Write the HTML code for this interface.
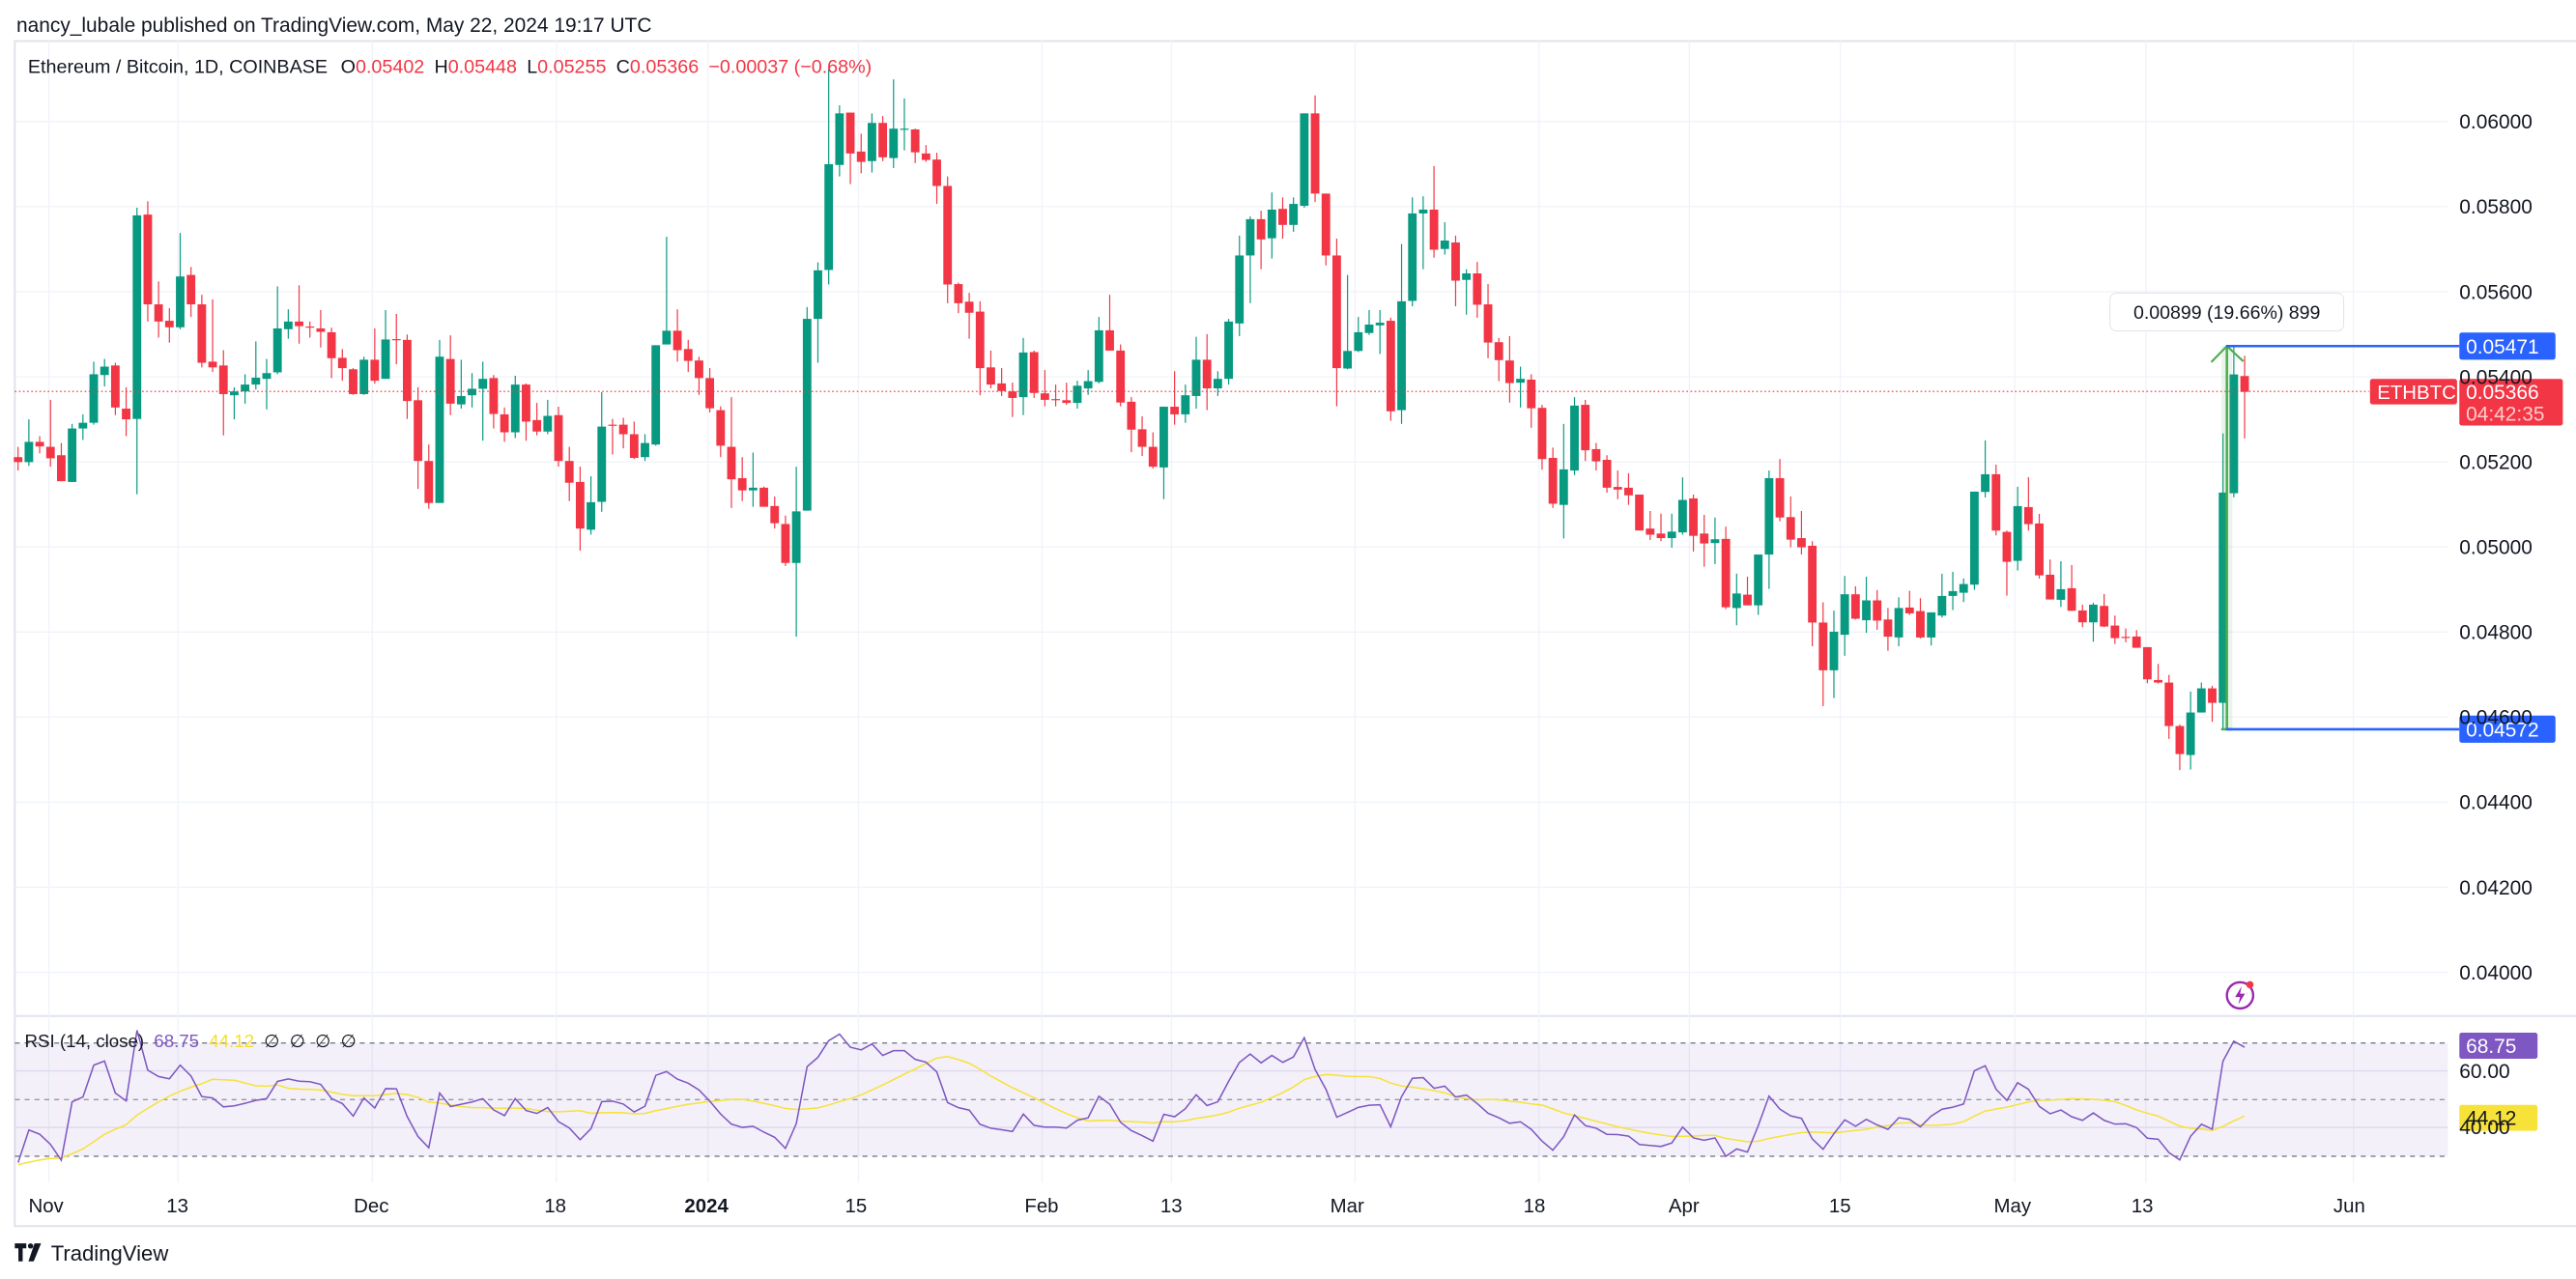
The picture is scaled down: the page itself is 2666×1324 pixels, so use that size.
<!DOCTYPE html>
<html><head><meta charset="utf-8">
<style>
html,body{margin:0;padding:0;background:#fff;}
svg{display:block;}
text{font-family:"Liberation Sans",Arial,sans-serif;}
</style></head>
<body>
<svg id="s" xmlns="http://www.w3.org/2000/svg" width="2666" height="1324" viewBox="0 0 1568 778.7" preserveAspectRatio="none">
<rect x="0" y="0" width="1568" height="778.7" fill="#fff"/>
<g id="grid"></g>
<rect x="9" y="635" width="1481" height="69" fill="#7e57c2" fill-opacity="0.09"/>
<g id="rsig"></g>
<g id="candles"></g>
<g id="ov"></g>
<text x="10" y="19.5" font-size="12.3" fill="#131722">nancy_lubale published on TradingView.com, May 22, 2024 19:17 UTC</text>
<text x="17" y="44.5" font-size="11.6" fill="#131722">Ethereum / Bitcoin, 1D, COINBASE<tspan dx="8">O</tspan><tspan fill="#f23645">0.05402</tspan><tspan dx="6">H</tspan><tspan fill="#f23645">0.05448</tspan><tspan dx="6">L</tspan><tspan fill="#f23645">0.05255</tspan><tspan dx="6">C</tspan><tspan fill="#f23645">0.05366</tspan><tspan dx="6" fill="#f23645">−0.00037 (−0.68%)</tspan></text>
<text x="15" y="637.5" font-size="11" fill="#131722">RSI (14, close)<tspan dx="6" fill="#7e57c2">68.75</tspan><tspan dx="6" fill="#f5e028">44.12</tspan><tspan dx="6">∅</tspan><tspan dx="6">∅</tspan><tspan dx="6">∅</tspan><tspan dx="6">∅</tspan></text>
<g font-size="12" fill="#131722" text-anchor="middle">
<text x="28" y="738">Nov</text><text x="108" y="738">13</text><text x="226" y="738">Dec</text><text x="338" y="738">18</text>
<text x="430" y="738" font-weight="bold">2024</text><text x="521" y="738">15</text><text x="634" y="738">Feb</text><text x="713" y="738">13</text>
<text x="820" y="738">Mar</text><text x="934" y="738">18</text><text x="1025" y="738">Apr</text><text x="1120" y="738">15</text>
<text x="1225" y="738">May</text><text x="1304" y="738">13</text><text x="1430" y="738">Jun</text>
</g>
<g id="plabels" font-size="12.3" fill="#131722"></g>
<text x="1497" y="656.5" font-size="12.3" fill="#131722">60.00</text>
<text x="1497" y="690.5" font-size="12.3" fill="#131722">40.00</text>
<g transform="translate(9,757)">
<path d="M0 0h7v3h-2.2v8h-2.6v-8h-2.2z" fill="#131722"/>
<circle cx="9.6" cy="1.6" r="1.6" fill="#131722"/>
<path d="M12 0h4l-4.5 11h-3.2z" fill="#131722"/>
</g>
<text x="31" y="767.5" font-size="13" fill="#131722">TradingView</text>
</svg>
<script>
var NS="http://www.w3.org/2000/svg";
function el(p,t,a){var e=document.createElementNS(NS,t);for(var k in a)e.setAttribute(k,a[k]);p.appendChild(e);return e;}
var G=document.getElementById('grid'),C=document.getElementById('candles'),O=document.getElementById('ov'),R=document.getElementById('rsig'),PL=document.getElementById('plabels');
el(G,'rect',{x:9,y:25,width:1560,height:721.5,fill:'none',stroke:'#e0e3eb','stroke-width':1.2});
el(G,'line',{x1:9,y1:618.6,x2:1568,y2:618.6,stroke:'#e0e3eb','stroke-width':1.2});
var vx=[29.7,108.4,226.6,338.7,430.9,522.5,634.3,713.1,824.8,936.7,1028.3,1120.2,1226.4,1306.2,1432.5];
vx.forEach(function(x){el(G,'line',{x1:x,y1:25,x2:x,y2:720,stroke:'#f0f3fa','stroke-width':0.8});});
for(var k=0;k<=10;k++){var y=74+k*51.8;el(G,'line',{x1:9,y1:y,x2:1490,y2:y,stroke:'#f0f3fa','stroke-width':0.8});
 var p=(0.06-k*0.002).toFixed(5);var t=el(PL,'text',{x:1497,y:y+4.3});t.textContent=p;}
el(G,'line',{x1:9,y1:652,x2:1490,y2:652,stroke:'#e9e5f3','stroke-width':0.8});
el(G,'line',{x1:9,y1:686.5,x2:1490,y2:686.5,stroke:'#e9e5f3','stroke-width':0.8});
[[635,'#787b86'],[669.5,'#9598a1'],[704,'#787b86']].forEach(function(a){el(R,'line',{x1:9,y1:a[0],x2:1490,y2:a[0],stroke:a[1],'stroke-width':0.8,'stroke-dasharray':'3,3'});});

var A=[[0,1045,1058,1018,1080],[1,1005,1058,946,1068],[0,1005,1017,990,1035],[0,1018,1048,895,1070],[0,1040,1108,1008,1108],[1,970,1110,958,1110],[1,955,970,933,1000],[1,828,955,795,960],[1,808,830,788,860],[0,805,915,798,935],
[0,918,946,862,990],[1,412,945,392,1142],[0,410,645,375,690],[0,645,690,585,732],[0,688,705,655,745],[1,572,705,458,710],[0,568,645,547,678],[0,645,798,620,810],[0,795,810,632,822],[0,805,880,765,988],
[1,873,883,862,946],[1,855,873,828,905],[1,837,855,742,868],[1,825,840,788,920],[1,708,823,598,828],[1,690,710,658,735],[0,690,702,595,748],[0,703,705,690,732],[0,708,717,660,758],[0,718,786,706,838],
[0,785,812,762,845],[0,815,880,812,882],[1,790,880,782,882],[0,790,845,708,853],[1,737,840,660,840],[0,736,738,670,802],[0,738,898,724,945],[0,896,1055,862,1128],[0,1055,1165,1012,1180],[1,782,1165,738,1165],
[0,788,905,726,935],[1,885,907,790,918],[1,866,883,825,915],[1,840,866,795,1002],[0,838,932,830,970],[0,933,980,915,1005],[1,855,980,832,995],[0,855,952,852,1002],[0,948,978,903,988],[1,937,978,895,985],
[0,935,1055,913,1070],[0,1055,1112,1018,1160],[0,1110,1232,1070,1290],[1,1163,1235,1095,1248],[1,965,1162,875,1188],[0,960,962,945,1038],[0,960,985,942,1022],[0,985,1047,952,1050],[1,1008,1045,985,1055],[1,752,1012,752,1015],
[1,714,750,468,750],[0,714,765,658,795],
[0,762,793,738,822],[0,792,838,782,882],[0,838,917,812,928],[0,922,1015,912,1045],[0,1018,1103,888,1178],[0,1100,1132,1045,1160],[1,1125,1132,1033,1175],[0,1125,1175,1122,1175],[0,1173,1218,1148,1232],[0,1220,1322,1198,1330],
[1,1187,1322,1070,1515],[1,683,1185,652,1185],[1,556,683,535,798],[1,278,555,28,593],[1,145,280,124,310],[0,143,250,143,330],[0,245,272,198,302],[1,170,270,145,300],[0,170,260,152,270],[1,185,262,56,288],
[1,185,187,106,242],[0,187,247,185,275],[0,250,267,228,272],[0,266,335,248,382],[0,335,593,310,642],[0,592,642,588,668],[0,638,667,615,735],[0,664,812,637,883],[0,810,855,766,865],[0,852,872,812,885],
[0,873,890,850,940],[1,771,888,733,935],[0,770,877,766,890],[0,878,895,817,912],[0,893,895,855,912],[0,896,903,850,908],[1,858,903,845,918],[1,846,865,817,882],[1,713,848,678,852],[0,713,766,620,766],
[0,766,902,750,912],[0,900,973,888,1032],[0,972,1018,938,1042],[0,1018,1070,980,1075],[1,913,1072,913,1155],[0,913,933,820,960],[1,883,933,855,955],[1,790,885,730,918],[0,790,865,723,922],[1,840,865,820,885],
[1,690,840,683,855],[1,517,695,465,728],[1,422,517,415,642],[0,422,475,400,553],[1,397,472,352,525],[0,395,437,365,473],[1,382,437,365,455],[1,145,387,145,392],[0,145,355,98,377],[0,355,517,355,543],
[0,517,812,473,912],
[1,767,813,568,815],[1,718,767,678,770],[1,698,720,660,725],[1,693,700,660,775],[0,688,925,680,950],[1,637,922,487,958],[1,407,636,365,650],[1,397,407,362,553],[0,397,502,283,523],[1,478,500,430,515],
[0,483,583,465,650],[1,564,581,553,672],[0,564,646,534,680],[0,645,745,592,786],[0,744,791,733,846],[0,792,851,728,902],[1,840,850,808,915],[0,842,917,828,968],[0,916,1050,908,1078],[0,1047,1167,1020,1178],
[1,1077,1170,958,1258],[1,910,1080,888,1092],[0,908,1027,895,1055],[0,1024,1056,1008,1080],[0,1052,1125,1040,1138],[0,1123,1130,1080,1155],[0,1125,1145,1087,1170],[0,1143,1237,1143,1237],[0,1232,1248,1186,1262],[0,1245,1257,1193,1265],
[1,1240,1257,1193,1282],[1,1157,1242,1098,1248],[0,1153,1251,1143,1292],[0,1245,1271,1196,1332],[1,1260,1270,1203,1325],[0,1259,1438,1227,1443],[1,1402,1440,1350,1485],[0,1405,1433,1358,1433],[1,1300,1433,1300,1458],[1,1100,1300,1080,1390],
[0,1100,1203,1050,1213],[0,1202,1261,1148,1281],[0,1257,1281,1186,1300],[0,1277,1478,1265,1540],[0,1478,1603,1425,1697],[1,1502,1603,1447,1676],[1,1404,1510,1356,1565],[0,1404,1468,1383,1470],[1,1420,1472,1358,1505],[0,1420,1473,1393,1497],
[0,1470,1515,1440,1552],[1,1440,1517,1412,1540]];
var B=[[0,987,1005,935,1010],[0,998,1080,958,1083],[1,1002,1080,1002,1105],[1,951,1012,882,1018],[1,936,951,876,995],[1,914,941,897,970],[1,627,916,627,932],[1,573,628,468,645],[0,573,748,543,763],[0,752,845,748,950],
[1,672,842,612,872],[0,675,728,582,748],[0,726,887,696,897],[0,885,962,838,962],[1,930,963,843,985],[0,927,997,855,998],[0,996,1033,978,1048],[1,978,1033,972,1093],[0,982,1046,945,1048],[0,1043,1082,1012,1100],
[0,1078,1080,1052,1095],[0,1077,1112,1057,1112],[0,1110,1210,1110,1222],[0,1212,1220,1162,1223],[0,1220,1355,1196,1395],[0,1355,1442,1350,1492],[1,1313,1445,1248,1490],[1,1238,1313,1220,1313],[0,1238,1283,1230,1342],[1,630,1283,446,1365],
[1,263,632,178,645],[0,268,317,205,462]];
var cs=[];
A.forEach(function(a){cs.push([a[0],35.3+a[1]/4.3,35.3+a[2]/4.3,35.3+a[3]/4.3,35.3+a[4]/4.3]);});
B.forEach(function(a){cs.push([a[0],176.4+a[1]/5.101,176.4+a[2]/5.101,176.4+a[3]/5.101,176.4+a[4]/5.101]);});
var N=cs.length;
function X(i){return 11+i*(1366.3-11)/(N-1);}
var closes=[];
cs.forEach(function(c,i){
 var col=c[0]?'#089981':'#f23645',x=X(i);
 el(C,'line',{x1:x,y1:c[3],x2:x,y2:c[4],stroke:col,'stroke-width':0.7});
 var h=Math.max(c[2]-c[1],0.7);
 el(C,'rect',{x:x-2.6,y:c[1],width:5.2,height:h,fill:col});
 closes.push(c[0]?-c[1]:-c[2]);
});
var rsi=[],ag=1.5,al=3.9,n=14;
for(var i=0;i<N;i++){
 var d=i?closes[i]-closes[i-1]:0;
 var g=d>0?d:0,l=d<0?-d:0;
 ag=(ag*(n-1)+g)/n;al=(al*(n-1)+l)/n;
 rsi.push(al==0?100:100-100/(1+ag/al));
}
var sma=[];for(var i=0;i<N;i++){var s=0;for(var j=i-13;j<=i;j++){s+=(j<0?27:rsi[j]);}sma.push(s/14);}
function RY(v){return 635+(70-v)*1.725;}
var p1='',p2='';
for(var i=0;i<N;i++){p1+=(i?'L':'M')+X(i).toFixed(1)+' '+RY(rsi[i]).toFixed(1);p2+=(i?'L':'M')+X(i).toFixed(1)+' '+RY(sma[i]).toFixed(1);}
el(R,'path',{d:p2,fill:'none',stroke:'#f7e23a','stroke-width':0.9});
el(R,'path',{d:p1,fill:'none',stroke:'#7e57c2','stroke-width':0.9});
el(O,'line',{x1:9,y1:238.3,x2:1442,y2:238.3,stroke:'#f23645','stroke-width':0.7,'stroke-dasharray':'1,1.5'});
el(O,'rect',{x:1352.2,y:210.7,width:6.6,height:233.3,fill:'#4caf50','fill-opacity':0.12});
el(O,'line',{x1:1355.5,y1:211,x2:1355.5,y2:444,stroke:'#4caf50','stroke-width':1.5});
el(O,'path',{d:'M1346 220.5L1355.5 210.7L1365.5 220',fill:'none',stroke:'#4caf50','stroke-width':1.3});
el(O,'line',{x1:1352,y1:444,x2:1359,y2:444,stroke:'#4caf50','stroke-width':1.5});
el(O,'line',{x1:1355,y1:210.7,x2:1497,y2:210.7,stroke:'#2962ff','stroke-width':1.5});
el(O,'line',{x1:1355,y1:444,x2:1497,y2:444,stroke:'#2962ff','stroke-width':1.5});
el(O,'rect',{x:1284.3,y:178.4,width:142.3,height:23.1,rx:4,fill:'#fff',stroke:'#e0e3eb','stroke-width':0.6});
var t=el(O,'text',{x:1355.5,y:194,'font-size':11.5,fill:'#131722','text-anchor':'middle'});t.textContent='0.00899 (19.66%) 899';
el(O,'rect',{x:1497,y:202.5,width:58.5,height:16.5,rx:1.5,fill:'#2962ff'});
t=el(O,'text',{x:1501,y:215.3,'font-size':12.3,fill:'#fff'});t.textContent='0.05471';
el(O,'rect',{x:1497,y:435.7,width:58.5,height:16.5,rx:1.5,fill:'#2962ff'});
t=el(O,'text',{x:1501,y:448.5,'font-size':12.3,fill:'#fff'});t.textContent='0.04572';
el(O,'rect',{x:1442.6,y:230.7,width:53,height:15.5,rx:1.5,fill:'#f23645'});
t=el(O,'text',{x:1447,y:243,'font-size':12,fill:'#fff'});t.textContent='ETHBTC';
el(O,'rect',{x:1497,y:230.7,width:63,height:28.4,rx:1.5,fill:'#f23645'});
t=el(O,'text',{x:1501,y:243,'font-size':12.3,fill:'#fff'});t.textContent='0.05366';
t=el(O,'text',{x:1501,y:256,'font-size':12.3,fill:'#fcc'});t.textContent='04:42:35';
el(O,'rect',{x:1497,y:628.7,width:47.6,height:15.9,rx:1.5,fill:'#7e57c2'});
t=el(O,'text',{x:1501,y:641,'font-size':12.3,fill:'#fff'});t.textContent='68.75';
el(O,'rect',{x:1497,y:672.7,width:47.6,height:15.8,rx:1.5,fill:'#f7e23a'});
t=el(O,'text',{x:1501,y:685,'font-size':12.3,fill:'#131722'});t.textContent='44.12';
el(O,'circle',{cx:1363.5,cy:606,r:8,fill:'#fff',stroke:'#9c27b0','stroke-width':1.4});
el(O,'path',{d:'M1364.5 600.5L1360.5 607H1363.5L1362.5 611.5L1366.5 605H1363.5Z',fill:'#9c27b0'});
el(O,'circle',{cx:1369.5,cy:599.5,r:2.2,fill:'#f23645'});
</script>
</body></html>
